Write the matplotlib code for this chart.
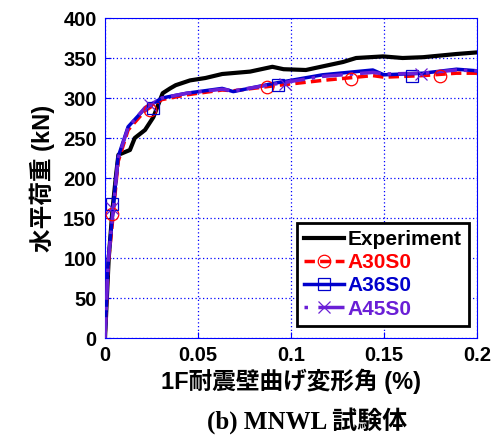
import numpy as np
import matplotlib.pyplot as plt

plt.rcParams['font.family'] = ['Liberation Sans', 'Noto Sans CJK JP']

# experiment
exp_x = [0, 0.002, 0.004, 0.006, 0.0072, 0.0134, 0.016, 0.0215, 0.026, 0.031, 0.035,
         0.038, 0.0457, 0.054, 0.063, 0.078, 0.090, 0.096, 0.108, 0.128, 0.135,
         0.1495, 0.160, 0.171, 0.189, 0.2]
exp_y = [0, 100, 160, 205, 229, 235, 250, 260, 276, 306, 312,
         316, 322, 325, 330, 333, 339, 336, 335, 345, 350,
         352, 350, 351, 355, 357]

# simulations
a36_x = [0, 0.0017, 0.0043, 0.007, 0.0124, 0.0215, 0.0306, 0.044, 0.063, 0.069,
         0.090, 0.117, 0.144, 0.150, 0.171, 0.189, 0.2]
a36_y = [0, 97, 160, 226, 264, 287, 300, 306, 312, 308,
         318, 329, 335, 329, 331, 336, 334]
a30_x = [0, 0.0017, 0.0043, 0.007, 0.0124, 0.0215, 0.0306, 0.044, 0.063, 0.069,
         0.090, 0.117, 0.144, 0.150, 0.171, 0.189, 0.2]
a30_y = [0, 92, 152, 220, 260, 284, 298, 304, 310, 309,
         315, 322, 328, 326, 328, 331, 331]
a45_x = [0, 0.0017, 0.0043, 0.007, 0.0124, 0.0215, 0.0306, 0.044, 0.063, 0.069,
         0.090, 0.117, 0.144, 0.150, 0.171, 0.189, 0.2]
a45_y = [0, 95, 158, 224, 263, 288, 300, 306, 311, 309,
         317, 327, 332, 330, 331, 335, 334]

a30_mx = [0.004, 0.024, 0.087, 0.132, 0.18]
a30_my = [155, 285, 314, 324, 328]
a36_mx = [0.004, 0.026, 0.093, 0.165]
a36_my = [167, 288, 316, 328]
a45_mx = [0.004, 0.024, 0.097, 0.170]
a45_my = [162, 291, 318, 330]

fig = plt.figure(figsize=(4.93, 4.38), dpi=100)
ax = fig.add_axes([0.213, 0.2283, 0.7545, 0.7306])

ax.plot(exp_x, exp_y, color='black', lw=3, label='Experiment')
ax.plot(a30_x, a30_y, color='red', lw=2.5, ls=(0, (3, 1.5)), zorder=3)
ax.plot(a36_x, a36_y, color='#0000cc', lw=2.5, zorder=3)
ax.plot(a45_x, a45_y, color='#6a1fd6', lw=2.5, ls=(0, (6, 2, 1, 2)), zorder=4)
ax.plot(a30_mx, a30_my, 'o', ms=9, mfc='none', mec='red', mew=0.9, zorder=5)
ax.plot(a36_mx, a36_my, 's', ms=9, mfc='none', mec='#0000cc', mew=0.9, zorder=5)
ax.plot(a45_mx, a45_my, 'x', ms=9, mec='#6a1fd6', mew=0.9, zorder=5)

# legend handles
h1, = ax.plot([], [], color='black', lw=3)
h2, = ax.plot([], [], color='red', lw=2.5, ls=(0, (3, 1.5)), marker='o', ms=9,
              mfc='none', mec='red', mew=0.9)
h3, = ax.plot([], [], color='#0000cc', lw=2.5, marker='s', ms=9, mfc='none',
              mec='#0000cc', mew=0.9)
h4, = ax.plot([], [], color='#6a1fd6', lw=2.5, ls=(0, (1, 3, 8, 0)), marker='x',
              ms=9, mec='#6a1fd6', mew=0.9)
leg = ax.legend([h1, h2, h3, h4], ['Experiment', 'A30S0', 'A36S0', 'A45S0'],
                loc='lower right', bbox_to_anchor=(0.99, 0.025), fancybox=False,
                framealpha=1, edgecolor='black', handlelength=1.9, handletextpad=0.2,
                borderpad=0.35, labelspacing=0.2, borderaxespad=0.2,
                prop={'weight': 'bold', 'size': 15})
leg.get_frame().set_linewidth(2)
for t, c in zip(leg.get_texts(), ['black', 'red', '#0000cc', '#6a1fd6']):
    t.set_color(c)

ax.set_xlim(0, 0.2)
ax.set_ylim(0, 400)
ax.set_xticks([0, 0.05, 0.1, 0.15, 0.2])
ax.set_xticklabels(['0', '0.05', '0.1', '0.15', '0.2'])
ax.set_yticks(range(0, 401, 50))
ax.grid(True, color='#0000ff', ls=(0, (1, 2)), lw=0.9)
for s in ax.spines.values():
    s.set_color('#0000ff')
ax.tick_params(direction='in', color='#0000ff', length=4, labelsize=14.5, pad=6)
for lab in ax.get_xticklabels() + ax.get_yticklabels():
    lab.set_fontweight('bold')

ax.set_xlabel('1F耐震壁曲げ変形角 (%)', fontsize=17, fontweight='bold', labelpad=2)
ax.set_ylabel('水平荷重 (kN)', fontsize=17, fontweight='bold', labelpad=6)
fig.text(0.623, 0.022, '(b) MNWL 試験体', ha='center', fontsize=18, fontweight='bold',
         family=['Liberation Serif', 'Noto Sans CJK JP'])

fig.savefig('out.png', dpi=100)
